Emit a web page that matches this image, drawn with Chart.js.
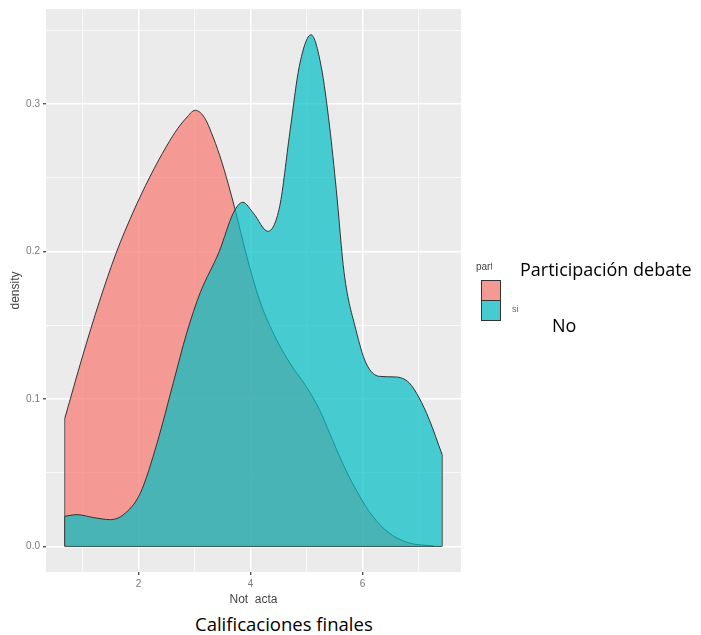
<!DOCTYPE html>
<html>
<head>
<meta charset="utf-8">
<script src="https://cdn.jsdelivr.net/npm/chart.js@4.4.0/dist/chart.umd.min.js"></script>
<style>
  body { margin: 0; background: #fff; }
  #wrap { position: relative; width: 701px; height: 635px; overflow: hidden; }
  canvas { position: absolute; left: 0; top: 0; }
  .big { position: absolute; font-family: "Open Sans", sans-serif; color: #000; white-space: nowrap; }
  .small { position: absolute; font-family: "Liberation Sans", Arial, sans-serif; white-space: nowrap; }
  .key { position: absolute; width: 18px; height: 19px; border: 1px solid #333; }
  .white { position: absolute; background: #fff; }
</style>
</head>
<body>
<div id="wrap">
  <canvas id="myChart" width="701" height="635"></canvas>

  <!-- legend from the original plot -->
  <div class="small" style="left:476px; top:261px; font-size:10px; color:#444;">part</div>
  <div class="key" style="left:481px; top:280px; background:rgb(244,153,147);"></div>
  <div class="key" style="left:481px; top:300px; background:rgb(70,204,208);"></div>
  <div class="small" style="left:512px; top:304px; font-size:9px; color:#666;">si</div>

  <!-- pasted labels -->
  <div class="white" style="left:492px; top:250px; width:209px; height:29px;"></div>
  <div class="big" style="left:520px; top:259px; font-size:18px; line-height:20px;">Participación debate</div>
  <div class="big" style="left:552px; top:315px; font-size:18px; line-height:20px;">No</div>
  <div class="white" style="left:0; top:604px; width:701px; height:31px;"></div>
  <div class="big" style="left:195px; top:613px; font-size:18.5px; line-height:22px;">Calificaciones finales</div>
</div>

<script>
// density curves
const xNo = [0.684, 1.0, 1.3, 1.6, 1.9, 2.2, 2.5, 2.7, 2.85, 3.01, 3.1, 3.2, 3.3, 3.45, 3.6, 3.72, 3.93, 4.16, 4.4, 4.7, 5.0, 5.23, 5.41, 5.64, 5.88, 6.18, 6.47, 6.83, 7.27];
const yNo = [0.087, 0.129, 0.166, 0.199, 0.2265, 0.2505, 0.2715, 0.2835, 0.2905, 0.2958, 0.2943, 0.2893, 0.2806, 0.265, 0.246, 0.229, 0.197, 0.167, 0.145, 0.1244, 0.108, 0.0927, 0.0769, 0.0566, 0.0385, 0.0204, 0.0091, 0.0023, 0.0003];

const xSi = [0.684, 0.9, 1.2, 1.5, 1.73, 2.03, 2.33, 2.62, 2.86, 3.1, 3.44, 3.69, 3.86, 4.05, 4.31, 4.52, 4.7, 4.87, 5.08, 5.26, 5.41, 5.53, 5.67, 5.88, 6.06, 6.3, 6.59, 6.83, 7.01, 7.19, 7.42];
const ySi = [0.0204, 0.0215, 0.0195, 0.0181, 0.0215, 0.036, 0.070, 0.111, 0.1448, 0.172, 0.200, 0.226, 0.2334, 0.226, 0.2137, 0.2307, 0.2805, 0.3256, 0.347, 0.3256, 0.285, 0.242, 0.1855, 0.147, 0.1244, 0.1153, 0.1149, 0.111, 0.1007, 0.086, 0.0622];

const xTicks = [1, 2, 3, 4, 5, 6, 7];
const xLabels = [2, 4, 6];
const yTicks = [0, 0.05, 0.1, 0.15, 0.2, 0.25, 0.3, 0.35];
const yLabels = [0, 0.1, 0.2, 0.3];

function pts(xs, ys) {
    return xs.map(function(x, i) { return {x: x, y: ys[i]}; });
}

function isMajor(list, v) {
    return list.some(function(m) { return Math.abs(m - v) < 1e-6; });
}

const panelBg = {
    id: 'panelBg',
    beforeDraw(chart) {
        const a = chart.chartArea;
        chart.ctx.save();
        chart.ctx.fillStyle = '#ebebeb';
        chart.ctx.fillRect(a.left, a.top, a.right - a.left, a.bottom - a.top);
        chart.ctx.restore();
    }
};

const edge = { borderColor: '#333', borderWidth: 1, pointRadius: 0, fill: false, tension: 0 };

const ctx = document.getElementById('myChart');
const myChart = new Chart(ctx, {
    type: 'line',
    data: {
        datasets: [
            {
                data: pts(xSi, ySi), order: 0,
                borderColor: '#333', borderWidth: 1, pointRadius: 0,
                backgroundColor: 'rgba(0,191,196,0.7)', fill: 'origin',
                cubicInterpolationMode: 'monotone'
            },
            Object.assign({ data: pts([xSi[0], xSi[0]], [0, ySi[0]]), order: 0 }, edge),
            Object.assign({ data: pts([xSi[xSi.length - 1], xSi[xSi.length - 1]], [0, ySi[ySi.length - 1]]), order: 0 }, edge),
            Object.assign({ data: pts([xSi[0], xSi[xSi.length - 1]], [0, 0]), order: 0 }, edge),
            {
                data: pts(xNo, yNo), order: 2,
                borderColor: '#333', borderWidth: 1, pointRadius: 0,
                backgroundColor: 'rgba(248,118,109,0.7)', fill: 'origin',
                cubicInterpolationMode: 'monotone'
            },
            Object.assign({ data: pts([xNo[0], xNo[0]], [0, yNo[0]]), order: 2 }, edge)
        ]
    },
    plugins: [panelBg],
    options: {
        responsive: false,
        animation: false,
        layout: { padding: { left: 0, right: 240, top: 9, bottom: 27 } },
        plugins: { legend: { display: false }, tooltip: { enabled: false } },
        scales: {
            x: {
                type: 'linear',
                min: 0.347, max: 7.757,
                afterFit: function(s) { s.height = 36; },
                afterBuildTicks: function(s) { s.ticks = xTicks.map(function(v) { return {value: v}; }); },
                border: { display: false },
                grid: {
                    color: '#ffffff',
                    lineWidth: function(c) { return isMajor(xLabels, c.tick.value) ? 1.4 : 0.7; },
                    tickColor: function(c) { return isMajor(xLabels, c.tick.value) ? '#555' : 'rgba(0,0,0,0)'; },
                    tickLength: 3
                },
                ticks: {
                    padding: 3, color: '#7a7a7a', maxRotation: 0, autoSkip: false,
                    font: { family: 'Liberation Sans', size: 10 },
                    callback: function(v) { return isMajor(xLabels, v) ? String(v) : ''; }
                },
                title: {
                    display: true, text: 'Not_acta', color: '#444',
                    font: { family: 'Liberation Sans', size: 12 },
                    padding: { top: 0, bottom: 1 }
                }
            },
            y: {
                min: -0.0174, max: 0.3645,
                afterFit: function(s) { s.width = 46; },
                afterBuildTicks: function(s) { s.ticks = yTicks.map(function(v) { return {value: v}; }); },
                border: { display: false },
                grid: {
                    color: '#ffffff',
                    lineWidth: function(c) { return isMajor(yLabels, c.tick.value) ? 1.4 : 0.7; },
                    tickColor: function(c) { return isMajor(yLabels, c.tick.value) ? '#555' : 'rgba(0,0,0,0)'; },
                    tickLength: 3
                },
                ticks: {
                    padding: 3, color: '#7a7a7a', autoSkip: false,
                    font: { family: 'Liberation Sans', size: 10 },
                    callback: function(v) { return isMajor(yLabels, v) ? v.toFixed(1) : ''; }
                },
                title: {
                    display: true, text: 'density', color: '#444',
                    font: { family: 'Liberation Sans', size: 12 },
                    padding: { top: 8, bottom: 0 }
                }
            }
        }
    }
});
</script>
</body>
</html>
